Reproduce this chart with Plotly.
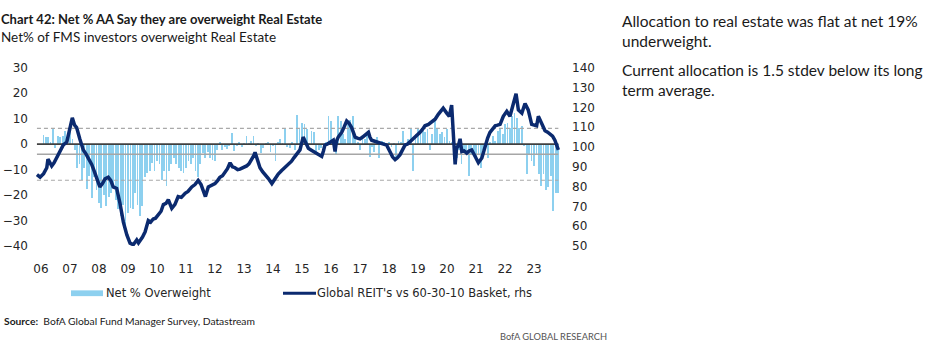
import pandas as pd
import plotly.graph_objects as go

# ---------------- data ----------------
# Net % of FMS investors overweight Real Estate (monthly, Feb-2006 .. Nov-2023)
net_overweight = [
    3.7, 2.8, 2.8, 1.0, 6.6, -1.6, 3.4, 2.8, 3.4, 5.3, 4, 4.7,
    2.1, -2.3, -9.2, -7.9, -14.2, -9.2, -17.4, -12.4, -21.2, -13, -18, -23,
    -25, -20, -24.3, -20.6, -19.3, -16.8, -21.8, -25.6, -28.1, -23.7, -31.9, -26.9,
    -25, -25.6, -19.3, -23.7, -28.1, -24.3, -13, -11.1, -10.5, -7.3, -10.5, -6.7,
    -7.9, -14.2, -10.5, -16.5,
    -10.5, -7.9, -5.4, -7.9, -9.2, -10.5, -11.1, -9.2, -6.7, -7.9,
    -5.4, -10.5, -13, -7.9, -3.5, -5.4, -2.9, -5.4, -6, -6.7,
    -2.3, 0.9, -2.3, -1, -1.9, -0.4, 4.4, -2.6, -0.4, 0.9,
    -1, 0.3, 3.4, 0.3, 1.5, 3.4, -0.4, 0.3, -3.5, -1.6,
    0.3, 0.9, -2.9, -0.4, -6.7, 0.9, 1.9, 0.3, 5.9, -1,
    -1.6, 0.9, -2.3, 11.6, 5.9, 8.4, 7.8,
    5.9, 0.3, 5.3, 4.7, -2.9, -2.3, -1.6, -2.9, 0.9, 11,
    9.1, 0.9, -4.2, 11, 9.1, 4, 2.1, 8.4, 9.7, 11,
    2.8, 0.9, -2.3, 3.4, 2.1, 4.7, -4.8, -1, -2.9, 2.8,
    -5.4, 1.5, 0.9, 0.3, 0.9, -1, 0.3, -6, 1.5, 0.9,
    5.3, 0.3, 2.1, 5.9, -10.5, 4, 5.9, 4.7, 5.3, 4.7,
    5.9, -2.3, 4, 9.1, 5.9, 4, 4.7, 2.8, 5.9, 1.5,
    0.9, -1.6, -5.4, -2.3, -7.9, -2.9, -3.5, -12.4, -4.2, -2.9,
    -6, -4.2, -9.2, -2.3, -1, -5.4, 0.9, 3.4, 1.5, 5.3,
    5.9, 4, 7.8, 8.4, 6.6, 11, 12.2, 10.3, 6.6, 7.2,
    -0.4, -11.7, -4.2, -6.7, -8.6, -4.2, -11.7, -16.2, -11.7, -18,
    -16.8, -12.4, -26.2, -19, -19,
]
bar_start = "2006-02-01"

# Global REIT's vs 60-30-10 basket (rhs), time in decimal years
reit_time = [
    2005.86, 2005.97, 2006.09, 2006.20, 2006.24, 2006.31, 2006.37, 2006.45, 2006.54, 2006.66,
    2006.77, 2006.89, 2007.00, 2007.08, 2007.16, 2007.23, 2007.34, 2007.46, 2007.55, 2007.63,
    2007.75, 2007.83, 2007.92, 2008.03, 2008.12, 2008.21, 2008.32, 2008.41, 2008.49, 2008.61,
    2008.72, 2008.84, 2008.96, 2009.07, 2009.18, 2009.24, 2009.30, 2009.36, 2009.41, 2009.50,
    2009.59, 2009.70, 2009.78, 2009.87, 2009.95, 2010.04, 2010.14, 2010.22, 2010.31, 2010.39,
    2010.51, 2010.62, 2010.73, 2010.84, 2010.97, 2011.07, 2011.20, 2011.31, 2011.42, 2011.52,
    2011.60, 2011.67, 2011.77, 2011.88, 2012.00, 2012.09, 2012.17, 2012.26, 2012.34, 2012.43,
    2012.52, 2012.60, 2012.69, 2012.78, 2012.86, 2012.97, 2013.09, 2013.17, 2013.27, 2013.33,
    2013.38, 2013.47, 2013.55, 2013.64, 2013.72, 2013.84, 2013.96, 2014.07, 2014.18, 2014.29,
    2014.41, 2014.53, 2014.64, 2014.72, 2014.82, 2014.93, 2015.04,
    2015.14, 2015.22, 2015.31, 2015.39, 2015.48, 2015.56, 2015.68, 2015.74, 2015.79, 2015.88,
    2015.97, 2016.08, 2016.14, 2016.19, 2016.25, 2016.37, 2016.45, 2016.54, 2016.62, 2016.71,
    2016.78, 2016.83, 2016.91, 2017.00, 2017.09, 2017.17, 2017.29, 2017.34, 2017.40, 2017.48,
    2017.58, 2017.69, 2017.80, 2017.92, 2018.03, 2018.12, 2018.21, 2018.29, 2018.38, 2018.47,
    2018.55, 2018.64, 2018.72, 2018.81, 2018.90, 2018.98, 2019.07, 2019.16, 2019.24, 2019.36,
    2019.47, 2019.59, 2019.70, 2019.79, 2019.87, 2019.99, 2020.08, 2020.16,
    2020.22, 2020.28, 2020.33, 2020.40, 2020.45, 2020.51, 2020.59, 2020.68, 2020.76, 2020.85,
    2020.97, 2021.08, 2021.20, 2021.31, 2021.40, 2021.48, 2021.57, 2021.66, 2021.74, 2021.83,
    2021.94, 2022.06, 2022.17, 2022.29, 2022.38, 2022.46, 2022.58, 2022.69, 2022.80, 2022.92,
    2023.00, 2023.09, 2023.15, 2023.27, 2023.38, 2023.47, 2023.55, 2023.64, 2023.72, 2023.84,
]
reit_value = [
    86, 84.7, 86.5, 89.5, 93.8, 91.5, 90.4, 92, 94.4, 97.5,
    101, 102.5, 109, 114.7, 111, 109.8, 104, 98.5, 96.5, 94.4,
    91.2, 88, 84.7, 79.8, 81.5, 83.9, 84.7, 83, 79.8, 79,
    71.7, 62, 55.5, 51.4, 50.6, 52, 53, 51.5, 52.4, 54.5,
    57.1, 62.8, 62, 63.6, 64, 66, 67.5, 70.9, 71.5, 73.3,
    69, 71, 74.9, 74.5, 76.6, 77.5, 79.8, 81, 83.1, 81,
    77, 74.9, 79.8, 80.5, 81.5, 83, 84.7, 85.5, 87.1, 89,
    92, 90, 89.5, 88.5, 88.8, 89.5, 90.4, 91.5, 93.6, 95.5,
    97.3, 93, 89.5, 87.5, 86.3, 84, 81.5, 84, 86.3, 88,
    89.5, 91, 92.8, 94.5, 96.1, 98.5, 105,
    102, 99.3, 98.5, 97.7, 97, 96.1, 95.2, 98, 100.9, 101.5,
    102.5, 103.4, 97.7, 103, 105, 107.4, 110, 113.1, 112, 109.8,
    107, 105, 104.5, 104.1, 105, 105.8, 107.4, 105, 103.4, 103,
    102.5, 102, 101.7, 100.9, 97.7, 95, 93.6, 94.5, 96.1, 98.5,
    100.9, 101.5, 102.5, 104, 105, 106, 107.4, 109, 110.7, 111.4,
    112.7, 114, 116.5, 118, 119.6, 117.1, 115.5, 121.2,
    105, 91.2, 99.3, 101, 104.1, 97.7, 98, 96.9, 98, 98.5,
    95.2, 92, 94.4, 100.9, 104.5, 107.4, 109, 110.7, 111, 111.4,
    115.5, 118, 115.5, 122, 126.9, 118.7, 117.1, 122, 118.7, 111.4,
    111, 110.7, 115.5, 111.4, 108.2, 107.5, 106.6, 105.5, 103.4, 98.5,
]

# reference levels of the Net % series (long-term average and +/- 1 stdev)
avg_level = -4.0
upper_level = 6.2
lower_level = -14.2
zero_level = 0

year_ticks = list(range(2006, 2024))
year_labels = ["06", "07", "08", "09", "10", "11", "12", "13", "14",
               "15", "16", "17", "18", "19", "20", "21", "22", "23"]
left_ticks = [30, 20, 10, 0, -10, -20, -30, -40]
right_ticks = [140, 130, 120, 110, 100, 90, 80, 70, 60, 50]

# ---------------- helpers ----------------
def dec_year(y):
    yr = int(y)
    a = pd.Timestamp(year=yr, month=1, day=1)
    b = pd.Timestamp(year=yr + 1, month=1, day=1)
    return a + (b - a) * (y - yr)

assert len(reit_time) == len(reit_value)
bar_dates = pd.date_range(bar_start, periods=len(net_overweight), freq="MS")
line_dates = [dec_year(t) for t in reit_time]
span = [line_dates[0], line_dates[-1]]

W, H = 929, 355
def px(x):
    return x / W
def py(y):
    return 1 - y / H

NAVY = "#0B2A6F"
BLUE = "#8DD0EF"
TXT = "#1a1a1a"
TICKFONT = dict(family="DejaVu Sans", size=12, color="#262626")
HUM = "Lato"

fig = go.Figure()
fig.add_trace(go.Bar(
    x=bar_dates, y=net_overweight, width=11 * 86400000,
    marker=dict(color=BLUE, line=dict(width=0)), name="Net % Overweight",
    showlegend=False))
for lvl, col, dash, w in [(upper_level, "#A9A9A9", "4px,3px", 1.2),
                          (lower_level, "#A9A9A9", "4px,3px", 1.2),
                          (avg_level, "#A6A6A6", "solid", 1.4),
                          (zero_level, "#404040", "solid", 1.6)]:
    fig.add_trace(go.Scatter(x=span, y=[lvl, lvl], mode="lines",
                             line=dict(color=col, width=w, dash=dash),
                             showlegend=False, hoverinfo="skip"))
fig.add_trace(go.Scatter(
    x=line_dates, y=reit_value, yaxis="y2", mode="lines",
    line=dict(color=NAVY, width=3.5), name="Global REIT's vs 60-30-10 Basket, rhs",
    showlegend=False))

x_left, x_right = 33, 562
y_top, y_bot = 63.3, 248.7
xr0 = dec_year(2006 + (x_left - 41) / 29)
xr1 = dec_year(2023 + (x_right - 534) / 29)

fig.update_layout(
    width=W, height=H, margin=dict(l=0, r=0, t=0, b=0),
    paper_bgcolor="white", plot_bgcolor="white", bargap=0,
    showlegend=False,
    xaxis=dict(domain=[px(x_left), px(x_right)], type="date", range=[xr0, xr1],
               tickvals=[pd.Timestamp(year=y, month=1, day=1) for y in year_ticks],
               ticktext=year_labels, showgrid=False, zeroline=False, showline=False,
               ticks="", tickfont=TICKFONT, ticklabelstandoff=14),
    yaxis=dict(domain=[py(y_bot), py(y_top)], range=[-40, 30],
               tickvals=left_ticks, showgrid=False, zeroline=False, showline=False,
               ticks="", tickfont=TICKFONT, ticklabelstandoff=4),
    yaxis2=dict(domain=[py(y_bot), py(y_top)], range=[50, 140], overlaying="y",
                side="right", tickvals=right_ticks, showgrid=False, zeroline=False,
                showline=False, ticks="", tickfont=TICKFONT, ticklabelstandoff=9),
)

def note(x, y, text, size, family, color=TXT, anchor="left"):
    fig.add_annotation(x=px(x), y=py(y), xref="paper", yref="paper", text=text,
                       showarrow=False, xanchor=anchor, yanchor="middle",
                       font=dict(size=size, family=family, color=color),
                       borderpad=0)

note(0, 13, "<b>Chart 42: Net % AA Say they are overweight Real Estate</b>", 13, HUM)
note(0, 31.5, "Net% of FMS investors overweight Real Estate", 13.5, HUM)
note(621, 14.5, "Allocation to real estate was flat at net 19%", 15.5, HUM)
note(621, 35.5, "underweight.", 15.5, HUM)
note(621, 65.5, "Current allocation is 1.5 stdev below its long", 15.5, HUM)
note(621, 86.5, "term average.", 15.5, HUM)

# legend
fig.add_shape(type="rect", xref="paper", yref="paper", x0=px(71), x1=px(103),
              y0=py(301), y1=py(295), fillcolor=BLUE, line=dict(width=0))
note(105, 298, "Net % Overweight", 11.5, "DejaVu Sans", "#262626")
fig.add_shape(type="line", xref="paper", yref="paper", x0=px(283), x1=px(316),
              y0=py(298), y1=py(298), line=dict(color=NAVY, width=3))
note(316, 298, "Global REIT's vs 60-30-10 Basket, rhs", 11.5, "DejaVu Sans", "#262626")

note(3, 327, "<b>Source:</b>  BofA Global Fund Manager Survey, Datastream", 10.3, HUM)
note(499, 343, "BofA GLOBAL RESEARCH", 9.3, HUM, "#555555")

fig.write_html("out.html", config={"displayModeBar": False},
               post_script="document.body.style.margin='0px';document.body.style.overflow='hidden';")
